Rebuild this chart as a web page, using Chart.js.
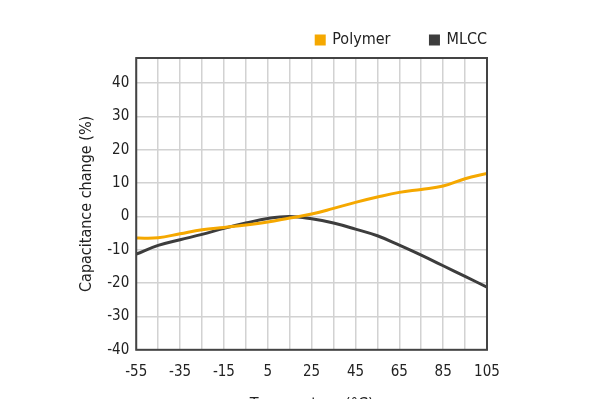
<!DOCTYPE html>
<html>
<head>
<meta charset="utf-8">
<script src="https://cdn.jsdelivr.net/npm/chart.js@4/dist/chart.umd.min.js"></script>
<style>
  html, body { margin: 0; padding: 0; background: #fff; overflow: hidden; }
  #wrap { width: 598px; height: 420px; }
</style>
</head>
<body>
<div id="wrap"><canvas id="capChart" width="598" height="420"></canvas></div>
<script>
// temperature (°C) and capacitance change (%)
const temps = [-55, -45, -35, -25, -15, -5, 5, 15, 25, 35, 45, 55, 65, 75, 85, 95, 105];
const polymer = [-6.5, -6.4, -5.2, -4.0, -3.3, -2.6, -1.7, -0.5, 0.7, 2.4, 4.2, 5.8, 7.2, 8.1, 9.1, 11.3, 12.9];
const mlcc = [-11.3, -8.7, -7.0, -5.4, -3.6, -2.0, -0.6, 0.0, -0.7, -2.0, -3.8, -5.8, -8.6, -11.6, -14.8, -18.0, -21.2];
const xLabels = [-55, -35, -15, 5, 25, 45, 65, 85, 105];
const yTicks = [-40, -30, -20, -10, 0, 10, 20, 30, 40];

const FONT = "'DejaVu Sans Condensed', 'Liberation Sans Narrow', sans-serif";
const ORANGE = '#f5a800';
const DARK = '#3d3d3d';
const TEXT = '#222';

const toPoints = (vals) => temps.map((t, i) => ({ x: t, y: vals[i] }));

// frame around the plot area, and push the legend flush with its right edge
const plotFrame = {
  id: 'plotFrame',
  afterLayout(chart) {
    const gap = chart.options.plugins.legend.labels.padding;
    chart.legend.left += gap;
    chart.legend.right += gap;
  },
  afterDraw(chart) {
    const { ctx, chartArea: a } = chart;
    ctx.save();
    ctx.strokeStyle = '#444';
    ctx.lineWidth = 2;
    ctx.strokeRect(a.left, a.top, a.right - a.left, a.bottom - a.top);
    ctx.restore();
  }
};

new Chart(document.getElementById('capChart').getContext('2d'), {
  type: 'line',
  data: {
    datasets: [
      {
        label: 'Polymer',
        data: toPoints(polymer),
        borderColor: ORANGE,
        backgroundColor: ORANGE,
        borderWidth: 3,
        pointRadius: 0,
        tension: 0.4
      },
      {
        label: 'MLCC',
        data: toPoints(mlcc),
        borderColor: DARK,
        backgroundColor: DARK,
        borderWidth: 3,
        pointRadius: 0,
        tension: 0.4
      }
    ]
  },
  options: {
    responsive: false,
    animation: false,
    layout: { padding: { left: 73, right: 111, top: -8, bottom: 2 } },
    plugins: {
      legend: {
        position: 'top',
        align: 'end',
        labels: {
          boxWidth: 8,
          boxHeight: 8,
          padding: 40,
          color: TEXT,
          font: { family: FONT, size: 16 }
        }
      },
      tooltip: { enabled: false }
    },
    scales: {
      x: {
        type: 'linear',
        min: -55,
        max: 105,
        ticks: {
          stepSize: 10,
          color: TEXT,
          padding: 13,
          font: { family: FONT, size: 15 },
          maxRotation: 0,
          autoSkip: false,
          callback: (v) => xLabels.includes(v) ? String(v) : ''
        },
        grid: { color: '#d2d2d2', lineWidth: 1.5, drawTicks: false },
        border: { display: false },
        title: {
          display: true,
          text: 'Temperature (°C)',
          color: TEXT,
          padding: { top: 1, bottom: 4 },
          font: { family: FONT, size: 16 }
        }
      },
      y: {
        min: -40,
        max: 47.5,
        ticks: {
          stepSize: 10,
          includeBounds: false,
          color: TEXT,
          padding: 7,
          font: { family: FONT, size: 15 },
          callback: (v) => yTicks.includes(v) ? String(v) : ''
        },
        grid: { color: '#d2d2d2', lineWidth: 1.5, drawTicks: false },
        border: { display: false },
        title: {
          display: true,
          text: 'Capacitance change (%)',
          color: TEXT,
          font: { family: FONT, size: 16 }
        }
      }
    }
  },
  plugins: [plotFrame]
});
</script>
</body>
</html>
